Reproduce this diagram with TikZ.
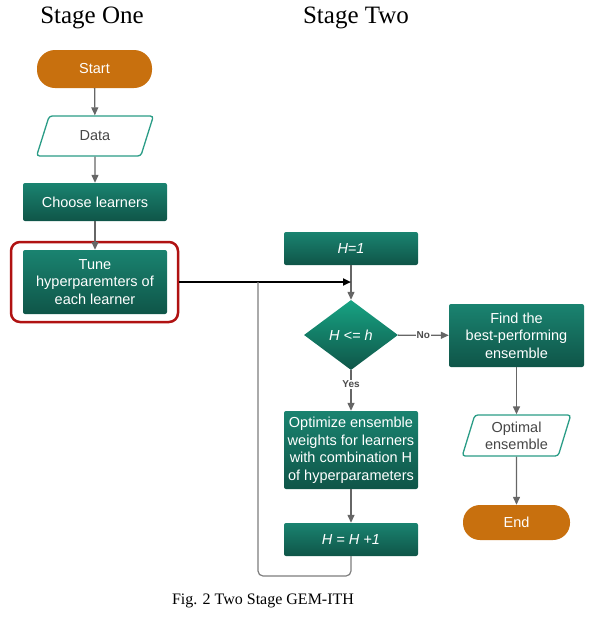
\documentclass[tikz,border=0pt]{standalone}
\usepackage{fontspec}
\setmainfont{Liberation Serif}
\newfontfamily\flowfont{Liberation Sans}
\usetikzlibrary{shapes.geometric, arrows.meta}

\definecolor{startorange}{HTML}{C8700E}
\definecolor{boxtop}{HTML}{1A8370}
\definecolor{boxbottom}{HTML}{0F5548}
\definecolor{diatop}{HTML}{17A383}
\definecolor{iogreen}{HTML}{2A9C86}
\definecolor{arrowgray}{HTML}{666666}
\definecolor{highlightred}{HTML}{B01212}

\begin{document}
\begin{tikzpicture}[x=1pt, y=-1pt]
 \tikzstyle{terminal}=[rectangle, rounded corners=18pt, fill=startorange, text=white, minimum width=115pt, minimum height=38pt, font=\flowfont\fontsize{14.5}{17}\selectfont]
 \tikzstyle{io}=[trapezium, trapezium left angle=73, trapezium right angle=107, trapezium stretches=true, draw=iogreen, line width=1.3pt, rounded corners=3pt, fill=white, text=black!72, minimum height=40pt, align=center, font=\flowfont\fontsize{14.5}{17}\selectfont]
 \tikzstyle{process}=[rectangle, rounded corners=2pt, top color=boxtop, bottom color=boxbottom, text=white, minimum width=144pt, align=center, font=\flowfont\fontsize{14.5}{17.5}\selectfont]
 \tikzstyle{decision}=[diamond, top color=diatop, bottom color=boxbottom, text=white, minimum width=94pt, minimum height=70pt, inner sep=0pt, font=\flowfont\itshape\fontsize{14.5}{17}\selectfont]
 \tikzstyle{arr}=[->, >={Triangle[length=8pt, width=7pt]}, draw=arrowgray, line width=1.3pt]
 \tikzstyle{tag}=[fill=white, inner sep=1pt, text=black!70, font=\flowfont\bfseries\fontsize{10}{12}\selectfont]

 \useasboundingbox (0,0) rectangle (601,622);

 % Titles
 \node (nstageone) at (92,18) {\fontsize{25}{30}\selectfont Stage One};
 \node (nstagetwo) at (356,18) {\fontsize{25}{30}\selectfont Stage Two};

 % Stage one
 \node (nstart) at (94.5,69) [terminal] {Start};
 \node (ndata) at (95,136) [io, minimum width=117pt] {Data};
 \node (nchoose) at (95,202) [process, minimum height=38pt] {Choose learners};
 \node (ntune) at (95,282) [process, minimum height=64pt] {Tune\\hyperparemters of\\each learner};
 \node (nhighlight) at (94.5,282) [rectangle, draw=highlightred, line width=2.5pt, rounded corners=9pt, minimum width=167pt, minimum height=80pt] {};

 % Stage two
 \node (nhone) at (351,248.5) [process, minimum width=134pt, minimum height=33pt] {\itshape H=1};
 \node (ncheck) at (351,335) [decision] {H <= h};
 \node (nfind) at (516.5,335.5) [process, minimum width=135pt, minimum height=63pt] {Find the\\best-performing\\ensemble};
 \node (noptimize) at (351,450) [process, minimum width=134pt, minimum height=78pt] {Optimize ensemble\\weights for learners\\with combination H\\of hyperparameters};
 \node (nincr) at (351,539.5) [process, minimum width=134pt, minimum height=33pt] {\itshape H = H +1};
 \node (noptimal) at (516.5,435.5) [io, minimum width=109pt, minimum height=41pt] {Optimal\\ensemble};
 \node (nend) at (516.5,522.5) [terminal, minimum width=107pt, minimum height=35pt, rounded corners=17pt] {End};

 % Caption
 \node (ncaption) at (263,601) {\fontsize{16}{18}\selectfont Fig. 2 Two Stage GEM-ITH};

 \coordinate (njoin) at (351,282);
 \coordinate (nloopcorner) at (258,576);
 \coordinate (nlooptop) at (258,282);

 % Stage one arrows
 \draw [arr] (nstart) -- (ndata);
 \draw [arr] (ndata) -- (nchoose);
 \draw [arr] (nchoose) -- (ntune);

 % Into stage two
 \draw [arr] (nhone) -- (ncheck);
 \draw [arr, draw=black, line width=2pt] (nhighlight.east) -- (njoin);

 % Decision
 \draw [arr] (ncheck) -- node [tag] {No} (nfind);
 \draw [arr] (ncheck) -- node [tag, pos=0.35] {Yes} (noptimize);
 \draw [arr] (noptimize) -- (nincr);

 % Loop back
 \draw [draw=arrowgray!85, line width=1.2pt, rounded corners=5pt] (nincr.south) |- (nloopcorner) -- (nlooptop);

 % Output
 \draw [arr] (nfind) -- (noptimal);
 \draw [arr] (noptimal) -- (nend);

\end{tikzpicture}
\end{document}
